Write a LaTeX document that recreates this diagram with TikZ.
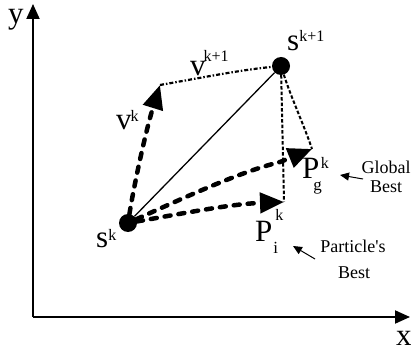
\documentclass[tikz,border=0pt]{standalone}
\usepackage{fontspec}
\setmainfont{Liberation Serif}
\usetikzlibrary{arrows.meta}
\newcommand{\rs}[2]{\raisebox{#1}{\fontsize{16}{16}\selectfont #2}}
\newcommand{\ls}[2]{\raisebox{#1}{\fontsize{17}{17}\selectfont #2}}
\tikzset{
  dotnode/.style={circle,fill=black,minimum size=18pt,inner sep=0pt},
  lbl/.style={inner sep=0pt,anchor=base west,font=\fontsize{31}{31}\selectfont},
  small/.style={inner sep=0pt,anchor=base,font=\fontsize{18}{18}\selectfont},
  axis/.style={line width=2pt,-{Triangle[length=15pt,width=13pt]}},
  thickdash/.style={line width=4.5pt,line cap=round,dash pattern=on 6pt off 8pt},
  bighead/.style={-{Triangle[length=24pt,width=20pt]}},
  thindash/.style={line width=2pt,dash pattern=on 3.5pt off 2pt},
  dashdot/.style={line width=2.2pt,dash pattern=on 4pt off 2pt on 1.5pt off 2pt},
  pointer/.style={line width=1pt,-{Triangle[length=9pt,width=8pt]}}
}
\begin{document}
\begin{tikzpicture}[x=1pt,y=-1pt]
\useasboundingbox (0,0) rectangle (411,352);
% axes
\coordinate (o) at (33,317);
\coordinate (yt) at (33,4);
\coordinate (xt) at (410,317);
\draw[axis] (o) -- (yt);
\draw[axis] (o) -- (xt);
\node[lbl] (ylab) at (8,24) {y};
\node[lbl] (xlab) at (396,345) {x};
% points
\node[dotnode] (sk) at (128,223) {};
\node[dotnode] (sk1) at (281,66) {};
\coordinate (vt) at (160,85);
\coordinate (pi) at (284,202);
\coordinate (pg) at (312,149);
\coordinate (mm) at (280,162);
% connectors
\draw[line width=1.3pt] (sk) -- (sk1);
\draw[thickdash,bighead] (sk) .. controls (134,185) and (146,130) .. (vt);
\draw[dashdot] (vt) .. controls (200,78) and (240,70) .. (sk1);
\draw[thindash] (sk1) -- (pi);
\draw[thindash] (sk1) .. controls (292,100) and (304,125) .. (pg);
\draw[thickdash,bighead] (sk) .. controls (180,214) and (230,204) .. (pi);
\draw[thickdash,bighead] (sk) .. controls (190,195) and (240,172) .. (mm) -- (pg);
% labels
\node[lbl] (sklab) at (96,247) {s\rs{7pt}{k}};
\node[lbl] (sk1lab) at (287,51) {s\rs{9pt}{k+1}};
\node[lbl] (vklab) at (116,130) {v\hspace{-1pt}\rs{8pt}{k}};
\node[lbl] (vk1lab) at (190,76) {v\hspace{-2pt}\rs{14pt}{k+1}};
\node[lbl] (pglab) at (302,179) {P\rlap{\hspace{1.5pt}\rs{10pt}{k}}\hspace{-6pt}\ls{-12pt}{g}};
\node[lbl] (pilab) at (255,241) {P\rlap{\hspace{3pt}\rs{21pt}{k}}\hspace{1pt}\ls{-12pt}{i}};
\node[small] (glob) at (386,174) {Global};
\node[small] (gbest) at (386,193) {Best};
\node[small] (part) at (353,252) {Particle\textquotesingle s};
\node[small] (pbest) at (354,278) {Best};
\coordinate (ga) at (363,179);
\coordinate (gb) at (340,175);
\coordinate (pa) at (315,259);
\coordinate (pb) at (293,246);
\draw[pointer] (ga) -- (gb);
\draw[pointer] (pa) -- (pb);
\end{tikzpicture}
\end{document}
